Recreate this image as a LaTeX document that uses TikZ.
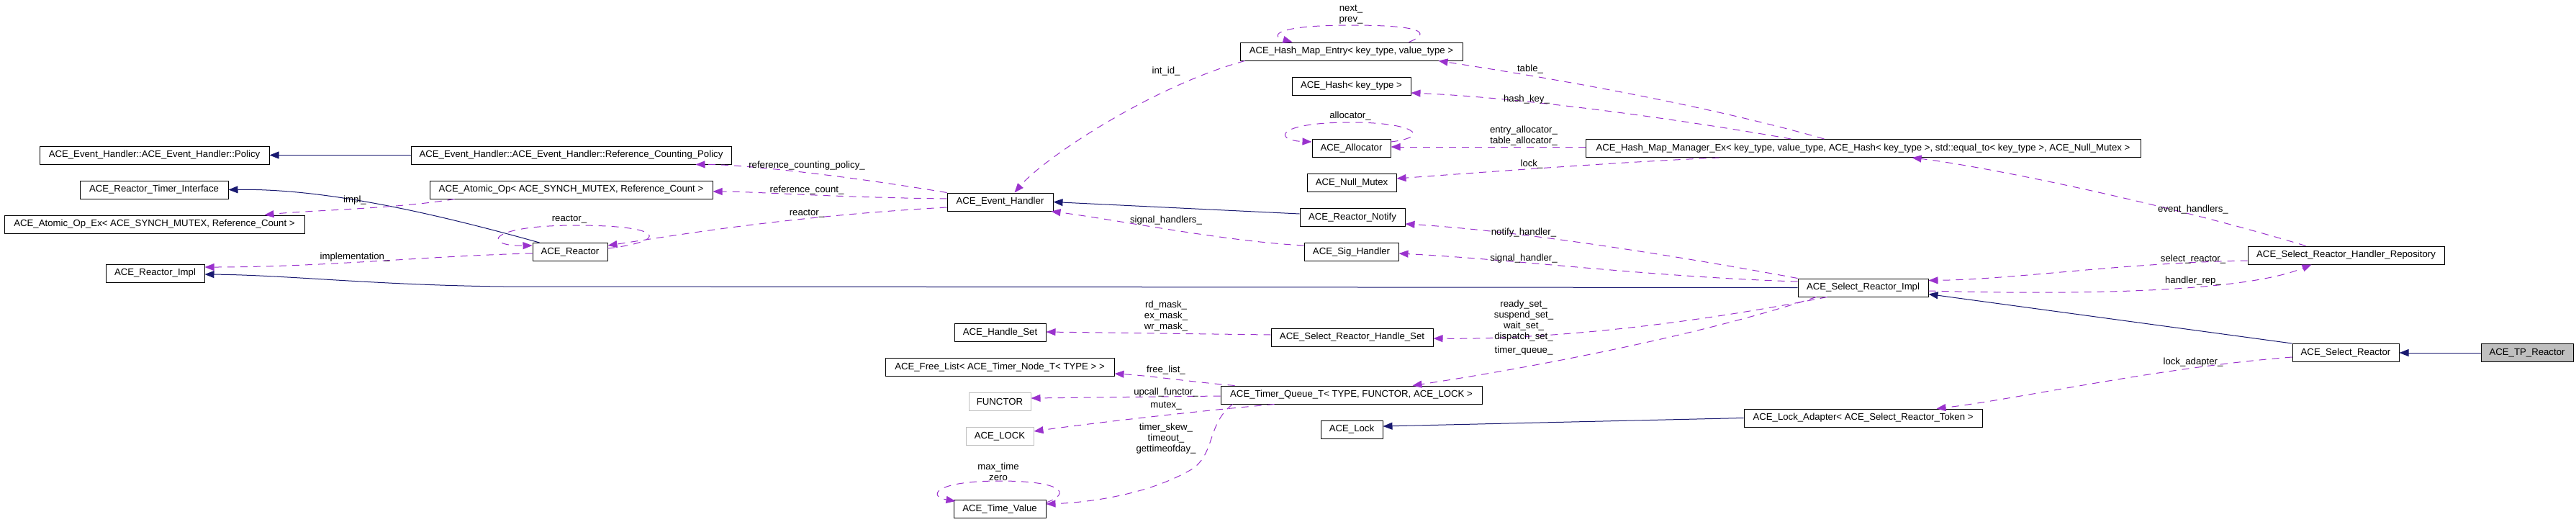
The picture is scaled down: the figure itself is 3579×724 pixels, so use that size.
\documentclass[tikz,border=0pt]{standalone}
\usepackage{fontspec}
\setmainfont{Liberation Sans}
\usetikzlibrary{arrows.meta}
\definecolor{navy}{RGB}{25,25,112}
\definecolor{orchid}{RGB}{154,50,205}
\definecolor{grey75}{RGB}{191,191,191}
\begin{document}
\begin{tikzpicture}[x=1pt,y=-1pt,
  cls/.style={draw=black, line width=1pt, fill=white, minimum height=25pt, inner xsep=0pt, inner ysep=0pt, font=\fontsize{13.2}{15}\selectfont},
  tpl/.style={cls, draw=grey75},
  cur/.style={cls, fill=grey75},
  inh/.style={draw=navy, line width=1pt, -{Triangle[length=13pt,width=10pt]}},
  use/.style={draw=orchid, line width=1pt, dash pattern=on 10pt off 8pt, -{Triangle[length=13pt,width=10pt,fill=orchid]}},
  lbl/.style={font=\fontsize{13.2}{15}\selectfont, inner sep=0pt, align=center}]
\useasboundingbox (0,0) rectangle (3579,724);
% nodes
\node[cls, minimum width=319] (policy) at (214.5,215.5) {ACE\_Event\_Handler::ACE\_Event\_Handler::Policy};
\node[cls, minimum width=445] (rcpolicy) at (793.5,215.5) {ACE\_Event\_Handler::ACE\_Event\_Handler::Reference\_Counting\_Policy};
\node[cls, minimum width=206] (timerif) at (214,263.5) {ACE\_Reactor\_Timer\_Interface};
\node[cls, minimum width=393] (atomicop) at (793.5,263.5) {ACE\_Atomic\_Op< ACE\_SYNCH\_MUTEX, Reference\_Count >};
\node[cls, minimum width=417] (atomicopex) at (214.5,311.5) {ACE\_Atomic\_Op\_Ex< ACE\_SYNCH\_MUTEX, Reference\_Count >};
\node[cls, minimum width=104] (reactor) at (792,350) {ACE\_Reactor};
\node[cls, minimum width=137] (reactorimpl) at (215.5,379.5) {ACE\_Reactor\_Impl};
\node[cls, minimum width=147] (eventhandler) at (1389.5,280.5) {ACE\_Event\_Handler};
\node[cls, minimum width=309] (hashentry) at (1877.5,71.5) {ACE\_Hash\_Map\_Entry< key\_type, value\_type >};
\node[cls, minimum width=165] (hash) at (1877.5,119.5) {ACE\_Hash< key\_type >};
\node[cls, minimum width=109] (allocator) at (1877.5,206) {ACE\_Allocator};
\node[cls, minimum width=124] (nullmutex) at (1878,254) {ACE\_Null\_Mutex};
\node[cls, minimum width=146] (notify) at (1879,302) {ACE\_Reactor\_Notify};
\node[cls, minimum width=131] (sighandler) at (1877.5,350) {ACE\_Sig\_Handler};
\node[cls, minimum width=771] (hashmgr) at (2588.5,206) {ACE\_Hash\_Map\_Manager\_Ex< key\_type, value\_type, ACE\_Hash< key\_type >, std::equal\_to< key\_type >, ACE\_Null\_Mutex >};
\node[cls, minimum width=181] (selimpl) at (2588.5,399.5) {ACE\_Select\_Reactor\_Impl};
\node[cls, minimum width=273] (handlerrepo) at (3259.5,354.5) {ACE\_Select\_Reactor\_Handler\_Repository};
\node[cls, minimum width=148] (selreactor) at (3259,490) {ACE\_Select\_Reactor};
\node[cur, minimum width=128] (tpreactor) at (3511,490) {ACE\_TP\_Reactor};
\node[cls, minimum width=225] (handleset) at (1878.5,468.5) {ACE\_Select\_Reactor\_Handle\_Set};
\node[cls, minimum width=127] (acehandleset) at (1389.5,462) {ACE\_Handle\_Set};
\node[cls, minimum width=318] (freelist) at (1389,510) {ACE\_Free\_List< ACE\_Timer\_Node\_T< TYPE > >};
\node[tpl, minimum width=86] (functor) at (1389,558) {FUNCTOR};
\node[tpl, minimum width=94] (acelocktpl) at (1389,606) {ACE\_LOCK};
\node[cls, minimum width=128] (timevalue) at (1389,707) {ACE\_Time\_Value};
\node[cls, minimum width=363] (timerqueue) at (1877.5,548.5) {ACE\_Timer\_Queue\_T< TYPE, FUNCTOR, ACE\_LOCK >};
\node[cls, minimum width=86] (acelock) at (1878,596.5) {ACE\_Lock};
\node[cls, minimum width=331] (lockadapter) at (2588.5,580.5) {ACE\_Lock\_Adapter< ACE\_Select\_Reactor\_Token >};
% inheritance
\draw[inh] (rcpolicy.west) -- (policy.east);
\draw[inh] ([xshift=10]reactor.north west) .. controls (560,284) and (430,262) .. (timerif.east);
\draw[inh] ([yshift=5]notify.west) -- (eventhandler.east);
\draw[inh] (selimpl.west) -- (700,398) .. controls (520,396) and (400,382) .. ([yshift=-1.5]reactorimpl.east);
\draw[inh] (selreactor.north west) -- ([yshift=4]selimpl.south east);
\draw[inh] (tpreactor.west) -- (selreactor.east);
\draw[inh] (lockadapter.west) -- ([yshift=4.5]acelock.east);
% usage
\draw[use] (eventhandler.north west) .. controls (1150,240) and (1020,228) .. ([xshift=-50]rcpolicy.south east);
\node[lbl] (l1) at (1121,230) {reference\_counting\_policy\_};
\draw[use] ([yshift=4.5]eventhandler.west) .. controls (1150,274) and (1050,266) .. ([yshift=-2.5]atomicop.east);
\node[lbl] (l2) at (1121,264) {reference\_count\_};
\draw[use] ([yshift=-7.5]eventhandler.west) .. controls (1100,300) and (950,325) .. ([yshift=9]reactor.east);
\node[lbl] (l3) at (1121,297) {reactor\_};
\draw[use] ([yshift=5]reactor.east) .. controls (930,335) and (925,313) .. (800,313) .. controls (675,313) and (670,342) .. ([yshift=9]reactor.west);
\node[lbl] (l4) at (791,305) {reactor\_};
\draw[use] ([xshift=35]atomicop.south west) .. controls (550,290) and (430,292) .. ([xshift=-56]atomicopex.north east);
\node[lbl] (l5) at (493,278) {impl\_};
\draw[use] ([yshift=-2]reactor.west) .. controls (600,355) and (450,371) .. ([yshift=8.5]reactorimpl.east);
\node[lbl] (l6) at (493,357) {implementation\_};
\draw[use] ([xshift=7]hashentry.south west) .. controls (1600,120) and (1450,220) .. ([xshift=20]eventhandler.north);
\node[lbl] (l7) at (1620,99) {int\_id\_};
\draw[use] ([xshift=80]hashentry.north) .. controls (1990,45) and (1975,35) .. (1877,35) .. controls (1770,35) and (1765,50) .. ([xshift=-82]hashentry.north);
\node[lbl] (l8) at (1877,20) {next\_\\prev\_};
\draw[use] ([xshift=-54]hashmgr.north) .. controls (2350,140) and (2100,100) .. ([xshift=-34]hashentry.south east);
\node[lbl] (l9) at (2126,96) {table\_};
\draw[use] ([xshift=-100]hashmgr.north) .. controls (2300,160) and (2100,135) .. ([yshift=-9.5]hash.east);
\node[lbl] (l10) at (2121,138) {hash\_key\_};
\draw[use] ([yshift=9]allocator.east) .. controls (1990,190) and (1965,170) .. (1877,170) .. controls (1770,170) and (1770,195) .. ([yshift=9]allocator.west);
\node[lbl] (l11) at (1876,161) {allocator\_};
\draw[use] ([yshift=2]hashmgr.west) -- ([yshift=2]allocator.east);
\node[lbl] (l12) at (2117,189) {entry\_allocator\_\\table\_allocator\_};
\draw[use] ([xshift=-200]hashmgr.south) .. controls (2250,225) and (2050,240) .. ([yshift=6]nullmutex.east);
\node[lbl] (l13) at (2128,228) {lock\_};
\draw[use] ([xshift=-56]handlerrepo.north) .. controls (3000,280) and (2750,230) .. ([xshift=68]hashmgr.south);
\node[lbl] (l14) at (3047,291) {event\_handlers\_};
\draw[use] (selimpl.north west) .. controls (2300,350) and (2100,320) .. ([yshift=-9]notify.east);
\node[lbl] (l15) at (2117,323) {notify\_handler\_};
\draw[use] ([yshift=8.5]selimpl.west) .. controls (2300,385) and (2100,360) .. ([yshift=-2]sighandler.east);
\node[lbl] (l16) at (2117,359) {signal\_handler\_};
\draw[use] ([yshift=9]sighandler.west) .. controls (1700,335) and (1550,305) .. ([xshift=-3]eventhandler.south east);
\node[lbl] (l17) at (1620,306) {signal\_handlers\_};
\draw[use] ([yshift=-7.5]handlerrepo.west) .. controls (2950,365) and (2800,388) .. ([yshift=10]selimpl.east);
\node[lbl] (l18) at (3047,360) {select\_reactor\_};
\draw[use] ([yshift=-4.5]selimpl.east) .. controls (2900,410) and (3120,405) .. ([xshift=-48]handlerrepo.south);
\node[lbl] (l19) at (3047,390) {handler\_rep\_};
\draw[use] ([xshift=-50]selimpl.south) .. controls (2350,450) and (2150,472) .. ([yshift=-1.5]handleset.east);
\node[lbl] (l20) at (2117,446) {ready\_set\_\\suspend\_set\_\\wait\_set\_\\dispatch\_set\_};
\draw[use] ([xshift=-65]selimpl.south) .. controls (2350,470) and (2100,515) .. ([xshift=-97]timerqueue.north east);
\node[lbl] (l21) at (2117,487) {timer\_queue\_};
\draw[use] ([yshift=-6]selreactor.west) .. controls (3000,510) and (2800,555) .. ([xshift=-64]lockadapter.north east);
\node[lbl] (l22) at (3047,503) {lock\_adapter\_};
\draw[use] ([yshift=3.5]handleset.west) -- ([yshift=1]acehandleset.east);
\node[lbl] (l23) at (1620,439) {rd\_mask\_\\ex\_mask\_\\wr\_mask\_};
\draw[use] ([xshift=20]timerqueue.north west) .. controls (1650,530) and (1600,522) .. ([yshift=4]freelist.south east);
\node[lbl] (l24) at (1620,514) {free\_list\_};
\draw[use] ([yshift=-1.5]timerqueue.west) -- ([yshift=5]functor.east);
\node[lbl] (l25) at (1620,545) {upcall\_functor\_};
\draw[use] ([xshift=-107]timerqueue.south) .. controls (1650,572) and (1500,590) .. ([yshift=7]acelocktpl.east);
\node[lbl] (l26) at (1620,564) {mutex\_};
\draw[use] ([xshift=17]timerqueue.south west) .. controls (1675,590) and (1690,635) .. (1650,655) .. controls (1590,688) and (1510,698) .. ([yshift=7]timevalue.east);
\node[lbl] (l27) at (1620,609) {timer\_skew\_\\timeout\_\\gettimeofday\_};
\draw[use] ([yshift=-4]timevalue.north east) .. controls (1490,685) and (1475,668) .. (1389,668) .. controls (1295,668) and (1290,690) .. ([xshift=3,yshift=-2]timevalue.north west);
\node[lbl] (l28) at (1387,655.5) {max\_time\\zero};
\end{tikzpicture}
\end{document}
